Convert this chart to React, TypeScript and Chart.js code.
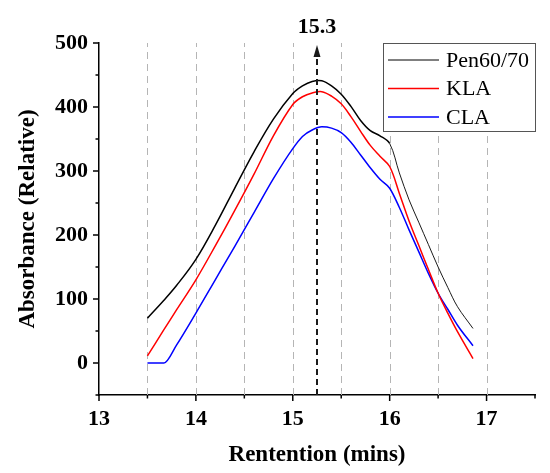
import { useEffect, useRef } from "react"
import { Chart, registerables } from "chart.js"

Chart.register(...registerables)

// retention time (mins), shared by all three traces
const retention = [
  13.5, 13.67, 13.8, 14.0, 14.2, 14.4, 14.6, 14.8, 15.0, 15.1, 15.2, 15.3, 15.4, 15.5,
  15.6, 15.7, 15.8, 15.9, 16.0, 16.1, 16.2, 16.3, 16.4, 16.5, 16.6, 16.7, 16.86,
]
const pen6070 = [
  70, 98, 121, 162, 215, 273, 330, 381, 421, 433, 440, 441, 433, 420,
  401, 379, 363, 355, 343, 297, 255, 220, 185, 150, 118, 88, 54,
]
const kla = [
  11, 52, 83, 130, 183, 238, 295, 355, 404, 416, 422, 424, 417, 405,
  385, 362, 340, 323, 307, 265, 222, 184, 146, 109, 78, 49, 7,
]
const cla = [
  0, 0, 28, 78, 130, 182, 235, 288, 335, 354, 364, 369, 367, 360,
  345, 325, 305, 287, 273, 243, 208, 174, 140, 109, 84, 59, 27,
]
const seriesNames = ["Pen60/70", "KLA", "CLA"]
const seriesColors = ["#000000", "#ff0000", "#0000ff"]
const gridMarks = [13.5, 14, 14.5, 15, 15.5, 16, 16.5, 17]
const peakRetention = 15.25
const peakLabel = "15.3"

const FONT = "'Liberation Serif', 'Times New Roman', serif"

const toPoints = (ys: number[]) => ys.map((y, i) => ({ x: retention[i], y }))

const decorPlugin = {
  id: "decor",
  beforeDatasetsDraw(chart: any) {
    const { ctx, chartArea, scales } = chart
    ctx.save()
    ctx.strokeStyle = "#b5b5b5"
    ctx.lineWidth = 1
    ctx.setLineDash([7, 5])
    gridMarks.forEach((v) => {
      const px = Math.round(scales.x.getPixelForValue(v)) + 0.5
      ctx.beginPath()
      ctx.moveTo(px, chartArea.bottom)
      ctx.lineTo(px, chartArea.top)
      ctx.stroke()
    })
    ctx.restore()
  },
  afterDatasetsDraw(chart: any) {
    const { ctx, chartArea, scales } = chart
    const x = scales.x
    const y = scales.y
    ctx.save()

    // tick marks, major and minor
    ctx.strokeStyle = "#000"
    ctx.lineWidth = 1.5
    x.ticks.forEach((t: any) => {
      const px = x.getPixelForValue(t.value)
      const len = Number.isInteger(t.value) ? 6 : 3.5
      ctx.beginPath()
      ctx.moveTo(px, chartArea.bottom)
      ctx.lineTo(px, chartArea.bottom + len)
      ctx.stroke()
    })
    y.ticks.forEach((t: any) => {
      const py = y.getPixelForValue(t.value)
      const len = t.value % 100 === 0 ? 6 : 3.5
      ctx.beginPath()
      ctx.moveTo(chartArea.left, py)
      ctx.lineTo(chartArea.left - len, py)
      ctx.stroke()
    })

    // peak marker
    const pk = x.getPixelForValue(peakRetention)
    const tip = chartArea.top + 2
    ctx.strokeStyle = "#1a1a1a"
    ctx.lineWidth = 2
    ctx.setLineDash([6, 4])
    ctx.beginPath()
    ctx.moveTo(pk, chartArea.bottom)
    ctx.lineTo(pk, tip + 10)
    ctx.stroke()
    ctx.setLineDash([])
    ctx.fillStyle = "#1a1a1a"
    ctx.beginPath()
    ctx.moveTo(pk, tip)
    ctx.lineTo(pk - 3.5, tip + 12)
    ctx.lineTo(pk + 3.5, tip + 12)
    ctx.closePath()
    ctx.fill()
    ctx.fillStyle = "#000"
    ctx.font = `bold 22px ${FONT}`
    ctx.textAlign = "center"
    ctx.textBaseline = "middle"
    ctx.fillText(peakLabel, pk, 27)

    // legend box
    const bw = 152
    const bh = 88
    const bx = chartArea.right - bw
    const by = chartArea.top
    ctx.fillStyle = "#fff"
    ctx.fillRect(bx, by, bw, bh)
    ctx.strokeStyle = "#555"
    ctx.lineWidth = 1
    ctx.strokeRect(bx + 0.5, by + 0.5, bw, bh)
    ctx.font = `22px ${FONT}`
    ctx.textAlign = "left"
    seriesNames.forEach((name, i) => {
      const ry = by + 17 + i * 28.5
      ctx.strokeStyle = seriesColors[i]
      ctx.lineWidth = i === 0 ? 1 : 1.5
      ctx.beginPath()
      ctx.moveTo(bx + 5, ry)
      ctx.lineTo(bx + 56, ry)
      ctx.stroke()
      ctx.fillStyle = "#000"
      ctx.fillText(name, bx + 63, ry + 1)
    })
    ctx.restore()
  },
}

export default function App() {
  const canvasRef = useRef<HTMLCanvasElement>(null)
  const chartRef = useRef<Chart | null>(null)

  useEffect(() => {
    if (!canvasRef.current) return
    if (chartRef.current) chartRef.current.destroy()

    const datasets = [pen6070, kla, cla].map((values, i) => ({
      label: seriesNames[i],
      data: toPoints(values),
      borderColor: seriesColors[i],
      borderWidth: 1.5,
      pointRadius: 0,
      tension: 0.35,
      // the CLA trace sits flat on zero at the start, keep it from dipping
      cubicInterpolationMode: i === 2 ? ("monotone" as const) : ("default" as const),
      segment:
        i === 0
          ? { borderWidth: (c: any) => (c.p0.parsed.x >= 16 ? 0.9 : 1.5) }
          : undefined,
    }))

    chartRef.current = new Chart(canvasRef.current, {
      type: "line",
      data: { datasets },
      plugins: [decorPlugin],
      options: {
        animation: false,
        responsive: true,
        maintainAspectRatio: false,
        layout: { padding: { top: 43, right: 15, left: 0, bottom: 0 } },
        plugins: {
          legend: { display: false },
          tooltip: { enabled: false },
        },
        scales: {
          x: {
            type: "linear",
            min: 13,
            max: 17.5,
            afterFit: (s: any) => {
              s.height = 78
            },
            grid: { display: false, drawTicks: false },
            border: { display: true, color: "#000", width: 1.5 },
            ticks: {
              stepSize: 0.5,
              autoSkip: false,
              maxRotation: 0,
              padding: 11,
              color: "#000",
              font: { family: FONT, size: 22, weight: "bold" },
              callback: (v: any) => (Number.isInteger(v) ? String(v) : ""),
            },
            title: {
              display: true,
              text: "Rentention (mins)",
              color: "#000",
              font: { family: FONT, size: 23, weight: "bold" },
              padding: { top: 0, bottom: 4 },
            },
          },
          y: {
            min: -50,
            max: 500,
            afterFit: (s: any) => {
              s.width = 99
            },
            grid: { display: false, drawTicks: false },
            border: { display: true, color: "#000", width: 1.5 },
            ticks: {
              stepSize: 50,
              autoSkip: false,
              padding: 11,
              color: "#000",
              font: { family: FONT, size: 22, weight: "bold" },
              callback: (v: any) => (v >= 0 && v % 100 === 0 ? String(v) : ""),
            },
            title: {
              display: true,
              text: "Absorbance (Relative)",
              color: "#000",
              font: { family: FONT, size: 23, weight: "bold" },
              padding: { top: 14, bottom: 0 },
            },
          },
        },
      },
    })

    return () => {
      if (chartRef.current) {
        chartRef.current.destroy()
        chartRef.current = null
      }
    }
  }, [])

  return (
    <div style={{ position: "fixed", left: 0, top: 0, width: 550, height: 473, background: "#fff" }}>
      <canvas ref={canvasRef} />
    </div>
  )
}
